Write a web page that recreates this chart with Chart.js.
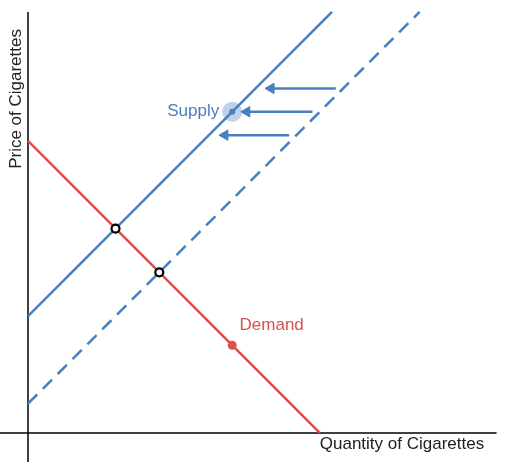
<!DOCTYPE html>
<html>
<head>
<meta charset="utf-8">
<script src="https://cdn.jsdelivr.net/npm/chart.js@4.4.1/dist/chart.umd.min.js"></script>
<style>
  html, body { margin: 0; padding: 0; background: #fff; }
  #wrap { width: 524px; height: 465px; }
</style>
</head>
<body>
<div id="wrap"><canvas id="myChart"></canvas></div>
<script>
// curves: price = intercept + slope * quantity
var supplyLine = [{ x: 0, y: 4 }, { x: 10.42, y: 14.42 }];
var supplyShifted = [{ x: 0, y: 1 }, { x: 13.42, y: 14.42 }];
var demandLine = [{ x: 0, y: 10 }, { x: 10, y: 0 }];
var equilibria = [{ x: 3, y: 7 }, { x: 4.5, y: 5.5 }];
var demandPoint = [{ x: 7, y: 3 }];
var supplyPoint = [{ x: 7, y: 11 }];
// shift arrows (from -> to)
var arrowLevels = [11.8, 11, 10.2];
var arrowFrom = [10.55, 9.75, 8.95];
var arrowTo = [8.33, 7.5, 6.75];
var xAxisLine = [{ x: -0.96, y: 0 }, { x: 16.06, y: 0 }];
var yAxisLine = [{ x: 0, y: -1.0 }, { x: 0, y: 14.42 }];

var blue = '#4a7fbd';
var red = '#d9504e';

// first dataset is drawn on top
var datasets = [
    { data: equilibria, showLine: false, pointRadius: 4, pointBackgroundColor: '#fff', pointBorderColor: '#000', pointBorderWidth: 2.2 },
    { data: demandPoint, showLine: false, pointRadius: 4.5, pointBackgroundColor: red, pointBorderWidth: 0 },
    { data: supplyPoint, showLine: false, pointRadius: 3, pointBackgroundColor: blue, pointBorderWidth: 0 },
    { data: supplyPoint, showLine: false, pointRadius: 10, pointBackgroundColor: 'rgba(74,127,189,0.35)', pointBorderWidth: 0 }
];
for (var i = 0; i < arrowLevels.length; i++) {
    datasets.push({
        data: [{ x: arrowFrom[i], y: arrowLevels[i] }, { x: arrowTo[i], y: arrowLevels[i] }],
        borderColor: blue, borderWidth: 2.5,
        pointRadius: [0, 6], pointStyle: 'triangle', rotation: -90,
        pointBackgroundColor: blue, pointBorderColor: blue, pointBorderWidth: 1
    });
}
datasets.push(
    { data: demandLine, borderColor: red, borderWidth: 2.5, pointRadius: 0 },
    { data: supplyLine, borderColor: blue, borderWidth: 2.5, pointRadius: 0 },
    { data: supplyShifted, borderColor: blue, borderWidth: 2.5, borderDash: [13, 8], pointRadius: 0 },
    { data: xAxisLine, borderColor: '#000', borderWidth: 1.5, pointRadius: 0 },
    { data: yAxisLine, borderColor: '#000', borderWidth: 1.5, pointRadius: 0 }
);

var labelsPlugin = {
    id: 'labels',
    afterDraw: function (chart) {
        var ctx = chart.ctx;
        var xs = chart.scales.x, ys = chart.scales.y;
        ctx.save();
        ctx.font = '17px "Liberation Sans", Arial, sans-serif';
        ctx.fillStyle = '#222';
        ctx.textBaseline = 'top';
        ctx.textAlign = 'left';
        ctx.fillText('Quantity of Cigarettes', xs.getPixelForValue(10.0), ys.getPixelForValue(0) + 3);

        ctx.translate(xs.getPixelForValue(0) - 12, ys.getPixelForValue(11.44));
        ctx.rotate(-Math.PI / 2);
        ctx.textAlign = 'center';
        ctx.textBaseline = 'alphabetic';
        ctx.fillText('Price of Cigarettes', 0, 5);
        ctx.restore();

        ctx.save();
        ctx.font = '17px "Liberation Sans", Arial, sans-serif';
        ctx.textBaseline = 'middle';
        ctx.fillStyle = blue;
        ctx.textAlign = 'right';
        ctx.fillText('Supply', xs.getPixelForValue(7) - 13, ys.getPixelForValue(11));
        ctx.fillStyle = red;
        ctx.textAlign = 'left';
        ctx.fillText('Demand', xs.getPixelForValue(7.25), ys.getPixelForValue(3.7));
        ctx.restore();
    }
};

new Chart(document.getElementById('myChart'), {
    type: 'scatter',
    data: { datasets: datasets },
    options: {
        responsive: true,
        maintainAspectRatio: false,
        animation: false,
        layout: { padding: 0, autoPadding: false },
        showLine: true,
        clip: false,
        plugins: { legend: { display: false }, tooltip: { enabled: false } },
        scales: {
            x: { type: 'linear', display: false, min: -0.96, max: 17.0 },
            y: { type: 'linear', display: false, min: -1.1, max: 14.83 }
        }
    },
    plugins: [labelsPlugin]
});
</script>
</body>
</html>
